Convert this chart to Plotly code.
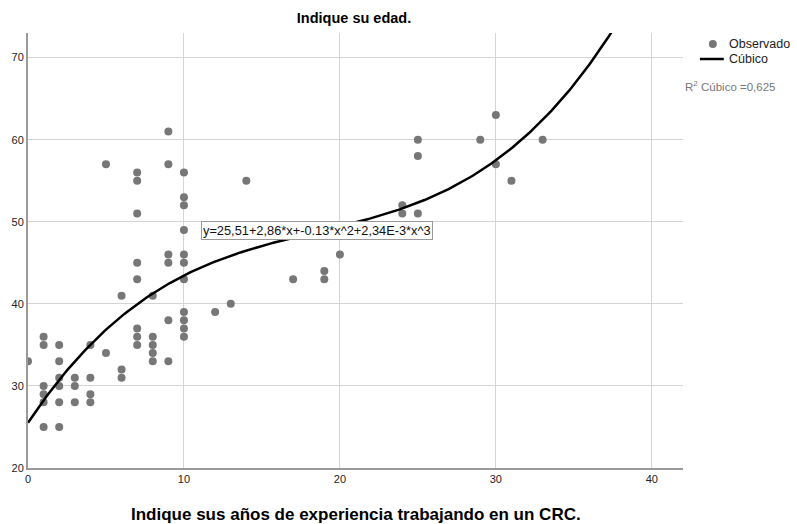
import numpy as np
import plotly.graph_objects as go

# Observed data: years of experience (x) and age (y)
exp_years = [0,
             1, 1, 1, 1, 1, 1,
             2, 2, 2, 2, 2, 2,
             3, 3, 3,
             4, 4, 4, 4,
             5, 5,
             6, 6, 6,
             7, 7, 7, 7, 7, 7, 7, 7,
             8, 8, 8, 8, 8,
             9, 9, 9, 9, 9, 9,
             10, 10, 10, 10, 10, 10, 10, 10, 10, 10, 10,
             12, 13, 14, 17, 19, 19, 20, 24, 24,
             25, 25, 25, 29, 30, 30, 31, 33]
age = [33,
       36, 35, 30, 29, 28, 25,
       35, 33, 31, 30, 28, 25,
       31, 30, 28,
       35, 31, 29, 28,
       57, 34,
       41, 32, 31,
       56, 55, 51, 45, 43, 37, 36, 35,
       41, 36, 35, 34, 33,
       61, 57, 46, 45, 38, 33,
       56, 53, 52, 49, 46, 45, 43, 39, 38, 37, 36,
       39, 40, 55, 43, 44, 43, 46, 52, 51,
       60, 58, 51, 60, 63, 57, 55, 60]

# Cubic fit coefficients shown on chart
coef = [25.51, 2.86, -0.13, 2.34e-3]
r2_label = "R<sup>2</sup> Cúbico =0,625"
eq_label = "y=25,51+2,86*x+-0.13*x^2+2,34E-3*x^3"

xfit = np.linspace(0, 42, 300)
yfit = coef[0] + coef[1]*xfit + coef[2]*xfit**2 + coef[3]*xfit**3

X0, X1 = 0, 42
Y0, Y1 = 20, 73

fig = go.Figure()
fig.add_trace(go.Scatter(x=exp_years, y=age, mode="markers",
                         marker=dict(color="#777777", size=8),
                         name="Observado", showlegend=False, cliponaxis=True))
fig.add_trace(go.Scatter(x=xfit, y=yfit, mode="lines",
                         line=dict(color="black", width=2.5),
                         name="Cúbico", showlegend=False))

# plot area pixel geometry
L, R, T, B = 25, 683, 33, 468
W, H = R - L, B - T
def px(xp): return (xp - L) / W
def py(yp): return (B - yp) / H

shapes = [
    dict(type="circle", xref="paper", yref="paper",
         x0=px(709), x1=px(717), y0=py(48), y1=py(40),
         fillcolor="#777777", line=dict(width=0)),
    dict(type="line", xref="paper", yref="paper",
         x0=px(700), x1=px(724), y0=py(59), y1=py(59),
         line=dict(color="black", width=2.5)),
]

annotations = [
    dict(text="Observado", xref="paper", yref="paper", x=px(727), y=py(44),
         xanchor="left", yanchor="middle", showarrow=False,
         font=dict(size=12.5, color="#222222")),
    dict(text="Cúbico", xref="paper", yref="paper", x=px(727), y=py(59),
         xanchor="left", yanchor="middle", showarrow=False,
         font=dict(size=12.5, color="#222222")),
    dict(text=r2_label, xref="paper", yref="paper", x=px(683), y=py(86),
         xanchor="left", yanchor="middle", showarrow=False,
         font=dict(size=11.5, color="#777777")),
    dict(text=eq_label, xref="paper", yref="paper", x=px(199), y=py(230),
         xanchor="left", yanchor="middle", showarrow=False,
         font=dict(size=12.8, color="#111111"), bgcolor="white",
         bordercolor="#999999", borderwidth=1, borderpad=1),
    dict(text="<b>Indique sus años de experiencia trabajando en un CRC.</b>",
         xref="paper", yref="paper", x=0.5, y=py(514),
         xanchor="center", yanchor="middle", showarrow=False,
         font=dict(size=17, color="black")),
]

fig.update_layout(
    width=797, height=524,
    margin=dict(l=L, r=797 - R, t=T, b=524 - B),
    paper_bgcolor="white", plot_bgcolor="white",
    font=dict(family="Liberation Sans, Arial, sans-serif", size=11, color="#222222"),
    title=dict(text="<b>Indique su edad.</b>", x=(L + R) / 2 / 797, xanchor="center",
               y=1 - 18 / 524, yanchor="middle", font=dict(size=14.5, color="black")),
    xaxis=dict(range=[X0, X1], tickvals=[0, 10, 20, 30, 40], showgrid=True,
               gridcolor="#d4d4d4", gridwidth=1, zeroline=False,
               showline=True, linecolor="#9a9a9a", linewidth=2, ticks="",
               tickfont=dict(size=11, color="#222222")),
    yaxis=dict(range=[Y0, Y1], tickvals=[20, 30, 40, 50, 60, 70], showgrid=True,
               gridcolor="#d4d4d4", gridwidth=1, zeroline=False,
               showline=True, linecolor="#9a9a9a", linewidth=2, ticks="",
               tickfont=dict(size=11, color="#222222")),
    shapes=shapes, annotations=annotations, showlegend=False,
)

fig.write_html("out.html")
